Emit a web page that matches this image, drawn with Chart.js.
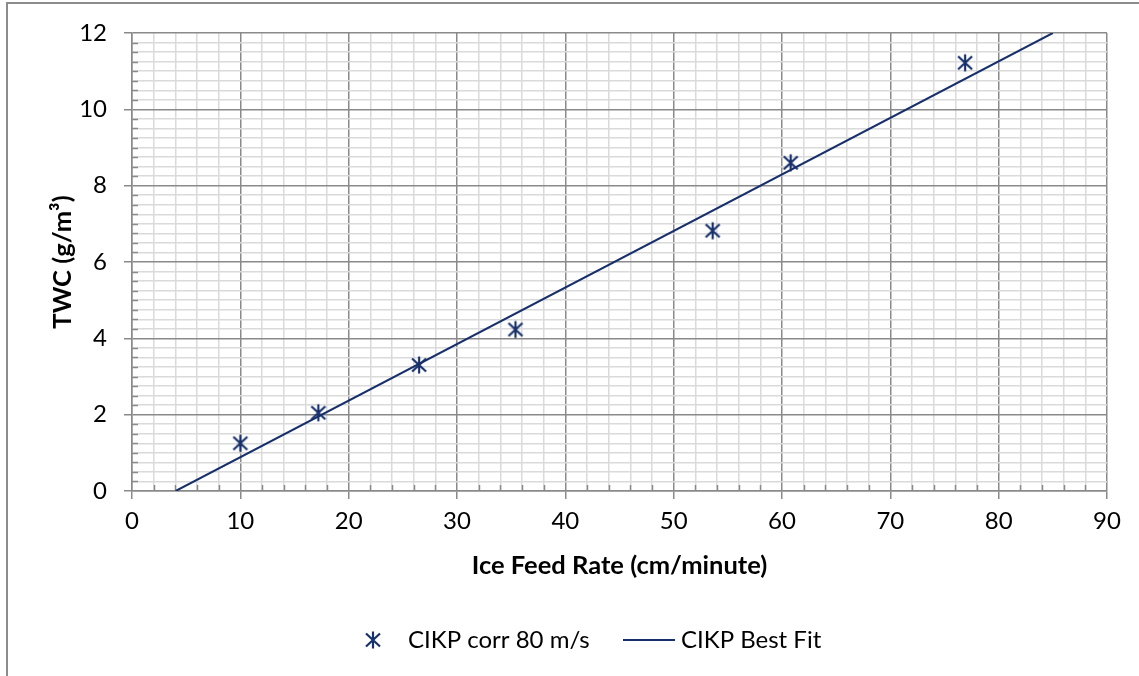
<!DOCTYPE html>
<html>
<head>
<meta charset="utf-8">
<title>TWC vs Ice Feed Rate</title>
<script src="https://cdn.jsdelivr.net/npm/chart.js@4.4.1/dist/chart.umd.min.js"></script>
<style>
  html, body { margin: 0; padding: 0; background: #ffffff; }
  #wrap { position: relative; width: 1139px; height: 676px; }
</style>
</head>
<body>
<div id="wrap"><canvas id="c" width="1139" height="676"></canvas></div>
<script>
// Measured points: ice feed rate (cm/minute) vs total water content (g/m³)
const feedRate = [10.0, 17.2, 26.5, 35.4, 53.6, 60.8, 76.9];
const twc      = [1.25, 2.05, 3.30, 4.23, 6.82, 8.60, 11.22];

// Best-fit line end points
const fitFeedRate = [4.03, 85.0];
const fitTwc      = [0, 12];

// Labelled ticks
const xTickLabels = ['0', '10', '20', '30', '40', '50', '60', '70', '80', '90'];
const yTickLabels = ['0', '2', '4', '6', '8', '10', '12'];

const seriesNames = ['CIKP corr 80 m/s', 'CIKP Best Fit'];

const NAVY = '#17306b';
const MAJOR = '#8a8a8a';
const MINOR = '#dadada';
const FONT = 'Lato, Carlito, Calibri, "Liberation Sans", sans-serif';

// Asterisk-style marker: an X crossed by a vertical stroke
function makeMarker(color) {
  const c = document.createElement('canvas');
  c.width = 20; c.height = 20;
  const g = c.getContext('2d');
  g.strokeStyle = color;
  g.lineWidth = 2.2;
  g.lineCap = 'butt';
  g.beginPath();
  g.moveTo(3, 3.5);  g.lineTo(17, 16.5);
  g.moveTo(17, 3.5); g.lineTo(3, 16.5);
  g.moveTo(10, 1.5); g.lineTo(10, 18.5);
  g.stroke();
  return c;
}
const marker = makeMarker(NAVY);

const scatterData = feedRate.map((x, i) => ({ x: x, y: twc[i] }));
const fitData = fitFeedRate.map((x, i) => ({ x: x, y: fitTwc[i] }));

const isMajor = (v, labels) => labels.includes(String(Math.round(v * 1000) / 1000));

// Outer frame of the chart object
const framePlugin = {
  id: 'frame',
  beforeDraw(chart) {
    const ctx = chart.ctx;
    ctx.save();
    ctx.fillStyle = '#ffffff';
    ctx.fillRect(0, 0, chart.width, chart.height);
    ctx.strokeStyle = '#8c8c8c';
    ctx.lineWidth = 2;
    ctx.strokeRect(7, 3, chart.width + 20, chart.height + 20);
    ctx.restore();
  }
};

// Short minor tick marks pointing into the plot area
const minorTickPlugin = {
  id: 'minorTicks',
  beforeDatasetsDraw(chart) {
    const ctx = chart.ctx;
    const xs = chart.scales.x, ys = chart.scales.y;
    ctx.save();
    ctx.strokeStyle = MAJOR;
    ctx.lineWidth = 1.5;
    ctx.beginPath();
    xs.ticks.forEach(t => {
      if (isMajor(t.value, xTickLabels)) return;
      const px = Math.round(xs.getPixelForValue(t.value)) + 0.5;
      ctx.moveTo(px, ys.bottom);
      ctx.lineTo(px, ys.bottom - 6);
    });
    ys.ticks.forEach(t => {
      if (isMajor(t.value, yTickLabels)) return;
      const py = Math.round(ys.getPixelForValue(t.value)) + 0.5;
      ctx.moveTo(xs.left, py);
      ctx.lineTo(xs.left + 6, py);
    });
    ctx.stroke();
    ctx.restore();
  }
};

// Legend row below the axis title
const legendPlugin = {
  id: 'rowLegend',
  afterDraw(chart) {
    const ctx = chart.ctx;
    const y = 640;
    ctx.save();
    ctx.font = '24px ' + FONT;
    ctx.fillStyle = '#000000';
    ctx.textBaseline = 'middle';
    ctx.textAlign = 'left';
    ctx.drawImage(marker, 373 - 10, y - 10);
    ctx.fillText(seriesNames[0], 408, y);
    ctx.strokeStyle = NAVY;
    ctx.lineWidth = 2;
    ctx.beginPath();
    ctx.moveTo(623, y);
    ctx.lineTo(675, y);
    ctx.stroke();
    ctx.fillText(seriesNames[1], 681, y);
    ctx.restore();
  }
};

new Chart(document.getElementById('c'), {
  type: 'scatter',
  data: {
    datasets: [
      {
        label: seriesNames[0],
        data: scatterData,
        pointStyle: marker,
        pointRadius: 10,
        showLine: false,
        borderColor: NAVY,
        backgroundColor: NAVY
      },
      {
        label: seriesNames[1],
        data: fitData,
        showLine: true,
        pointRadius: 0,
        borderColor: NAVY,
        borderWidth: 2,
        fill: false
      }
    ]
  },
  options: {
    responsive: false,
    devicePixelRatio: 1,
    animation: false,
    events: [],
    layout: { padding: { left: 0, right: 32, top: 33, bottom: 0 } },
    plugins: {
      legend: { display: false },
      tooltip: { enabled: false },
      title: { display: false }
    },
    scales: {
      x: {
        type: 'linear',
        min: 0,
        max: 90,
        afterFit(scale) { scale.height = 185; },
        ticks: {
          stepSize: 2,
          autoSkip: false,
          maxRotation: 0,
          padding: 8,
          color: '#000000',
          font: { family: FONT, size: 24 },
          callback: v => (isMajor(v, xTickLabels) ? String(Math.round(v)) : '')
        },
        grid: {
          color: c => (c.tick && isMajor(c.tick.value, xTickLabels) ? MAJOR : MINOR),
          lineWidth: 1.5,
          tickColor: c => (c.tick && isMajor(c.tick.value, xTickLabels) ? MAJOR : 'rgba(0,0,0,0)'),
          tickLength: 8,
          tickWidth: 1.5
        },
        border: { color: MAJOR, width: 1.5 },
        title: {
          display: true,
          text: 'Ice Feed Rate (cm/minute)',
          color: '#000000',
          font: { family: FONT, size: 25.5, weight: 'bold' },
          padding: { top: 0, bottom: 95 }
        }
      },
      y: {
        type: 'linear',
        min: 0,
        max: 12,
        afterFit(scale) { scale.width = 132; },
        ticks: {
          stepSize: 0.25,
          autoSkip: false,
          padding: 17,
          color: '#000000',
          font: { family: FONT, size: 24 },
          callback: v => (isMajor(v, yTickLabels) ? String(Math.round(v)) : '')
        },
        grid: {
          color: c => (c.tick && isMajor(c.tick.value, yTickLabels) ? MAJOR : MINOR),
          lineWidth: 1.5,
          tickColor: c => (c.tick && isMajor(c.tick.value, yTickLabels) ? MAJOR : 'rgba(0,0,0,0)'),
          tickLength: 8,
          tickWidth: 1.5
        },
        border: { color: MAJOR, width: 1.5 },
        title: {
          display: true,
          text: 'TWC (g/m³)',
          color: '#000000',
          font: { family: FONT, size: 25.5, weight: 'bold' },
          padding: { top: 47, bottom: 0 }
        }
      }
    }
  },
  plugins: [framePlugin, minorTickPlugin, legendPlugin]
});
</script>
</body>
</html>
